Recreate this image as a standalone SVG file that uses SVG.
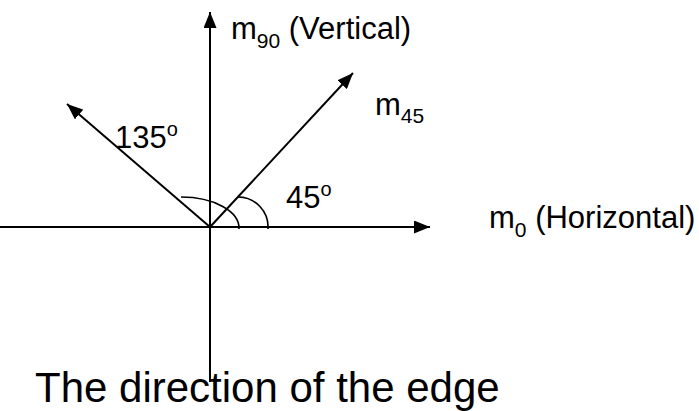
<svg xmlns="http://www.w3.org/2000/svg" width="699" height="411" viewBox="0 0 699 411">
<style>
.ln{stroke:#000;stroke-width:2;fill:none}
.arc{stroke:#000;stroke-width:1.6;fill:none}
.t{font-family:"Liberation Sans",Arial,sans-serif;fill:#000}
</style>
<defs>
<marker id="ah" markerWidth="16" markerHeight="13" refX="16" refY="6.5" orient="auto" markerUnits="userSpaceOnUse">
<path d="M0,0 L16,6.5 L0,13 Z" fill="#000"/>
</marker>
</defs>
<rect width="699" height="411" fill="#fff"/>
<g id="connectors">
<line class="ln" x1="0" y1="227" x2="430" y2="227" marker-end="url(#ah)"/>
<line class="ln" x1="210" y1="382" x2="210" y2="12" marker-end="url(#ah)"/>
<line class="ln" x1="210" y1="227" x2="353" y2="73" marker-end="url(#ah)"/>
<line class="ln" x1="210" y1="227" x2="67" y2="104" marker-end="url(#ah)"/>
<path class="arc" d="M238,197 A30,30 0 0 1 268,229"/>
<path class="arc" d="M181,197 A58,31 0 0 1 239,229"/>
</g>
<g id="label-m90">
<text class="t" x="231" y="39" font-size="31">m<tspan font-size="21" dy="9">90</tspan><tspan dy="-9"> (Vertical)</tspan></text>
</g>
<g id="label-m45">
<text class="t" x="375" y="115" font-size="31">m<tspan font-size="21" dy="8">45</tspan></text>
</g>
<g id="label-m0">
<text class="t" x="489" y="228" font-size="31">m<tspan font-size="21" dy="9">0</tspan><tspan dy="-9"> (Horizontal)</tspan></text>
</g>
<g id="label-45">
<text class="t" x="286" y="208" font-size="31">45<tspan font-size="20" dy="-12">o</tspan></text>
</g>
<g id="label-135">
<text class="t" x="115" y="148" font-size="31">135<tspan font-size="20" dy="-12">o</tspan></text>
</g>
<g id="caption">
<text class="t" x="35" y="402" font-size="42">The direction of the edge</text>
</g>
</svg>
